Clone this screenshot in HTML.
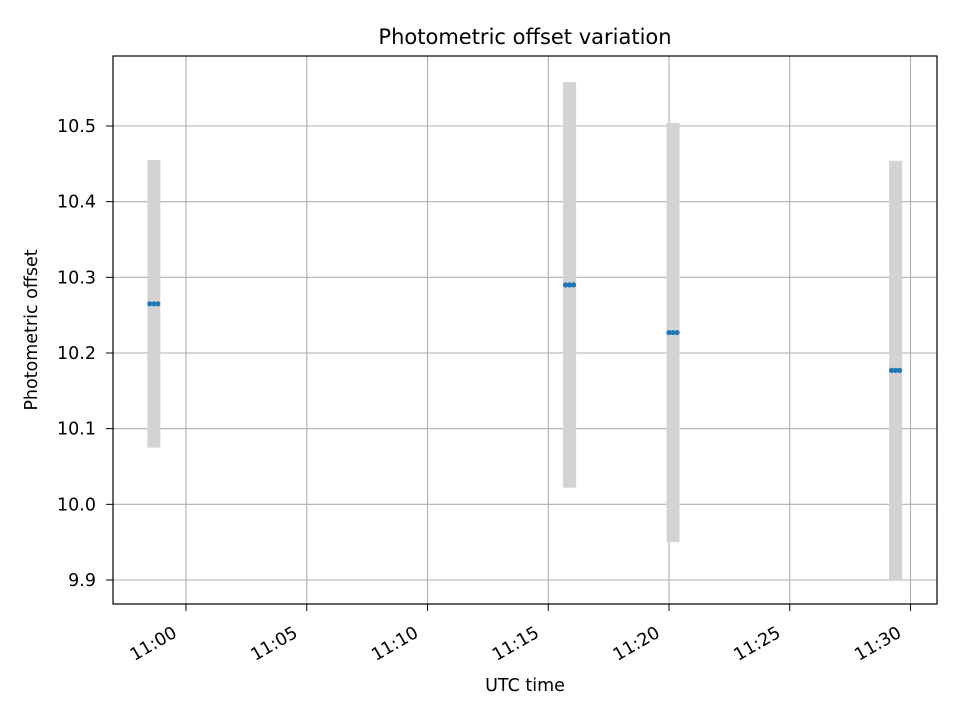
<!DOCTYPE html>
<html><head><meta charset="utf-8"><style>
body{margin:0;background:#fff;font-family:"DejaVu Sans","Liberation Sans",sans-serif}
</style></head><body>
<svg id="chart" width="960" height="720" xmlns="http://www.w3.org/2000/svg" font-family="DejaVu Sans, Liberation Sans, sans-serif">
<rect width="960" height="720" fill="#fff"/>
<g id="grid"></g>
<g id="bars"></g>
<g id="pts"></g>
<rect x="113" y="56" width="824" height="548" fill="none" stroke="#000" stroke-width="1.2"/>
<g id="ticks"></g>
<text x="525" y="44" text-anchor="middle" font-size="21">Photometric offset variation</text>
<text x="525" y="691" text-anchor="middle" font-size="17.5">UTC time</text>
<text transform="translate(37,330) rotate(-90)" text-anchor="middle" font-size="17.5">Photometric offset</text>
</svg>
<script>
// times in seconds from 11:00:00
const times=[-90,-80,-70, 943,953,963, 1200,1210,1220, 1753,1763,1773];
const values=[10.265,10.265,10.265, 10.290,10.290,10.290, 10.227,10.227,10.227, 10.177,10.177,10.177];
const errors=[0.19,0.19,0.19, 0.268,0.268,0.268, 0.277,0.277,0.277, 0.277,0.277,0.277];
const xTicks=[0,300,600,900,1200,1500,1800];
const xTickLabels=["11:00","11:05","11:10","11:15","11:20","11:25","11:30"];
const yTicks=[9.9,10.0,10.1,10.2,10.3,10.4,10.5];
const yTickLabels=["9.9","10.0","10.1","10.2","10.3","10.4","10.5"];
const NS="http://www.w3.org/2000/svg";
const L=113,R=937,T=56,B=604;
const x=s=>186+(s/300)*120.75;
const y=v=>580-(v-9.9)/0.6*454;
function mk(tag,attrs,parent){const e=document.createElementNS(NS,tag);for(const k in attrs)e.setAttribute(k,attrs[k]);document.getElementById(parent).appendChild(e);return e;}
xTicks.forEach((t,i)=>{
 const g=mk('line',{x1:x(t),x2:x(t),y1:T,y2:B,stroke:'#b0b0b0','stroke-width':1.1},'grid');
 
 const tk=mk('line',{x1:x(t),x2:x(t),y1:B,y2:B+7,stroke:'#000'},'ticks');
 
 const ax=x(t)-8, ay=636;
 const tx=mk('text',{x:ax,y:ay,'text-anchor':'end','font-size':17.5,transform:`rotate(-30 ${ax} ${ay})`},'ticks');
 tx.textContent=xTickLabels[i];
 
});
yTicks.forEach((v,i)=>{
 const g=mk('line',{x1:L,x2:R,y1:y(v),y2:y(v),stroke:'#b0b0b0','stroke-width':1.1},'grid');
 
 const tk=mk('line',{x1:L-7,x2:L,y1:y(v),y2:y(v),stroke:'#000'},'ticks');
 
 const tx=mk('text',{x:L-17,y:y(v)+6,'text-anchor':'end','font-size':17.5},'ticks');
 tx.textContent=yTickLabels[i];
 
});
times.forEach((t,i)=>{
 const b=mk('rect',{x:x(t)-2.5,y:y(values[i]+errors[i]),width:5,height:y(values[i]-errors[i])-y(values[i]+errors[i]),fill:'#d3d3d3'},'bars');
 
});
times.forEach((t,i)=>{
 const p=mk('circle',{cx:x(t),cy:y(values[i]),r:2.6,fill:'#1f77b4'},'pts');
 
});
</script>
</body></html>
